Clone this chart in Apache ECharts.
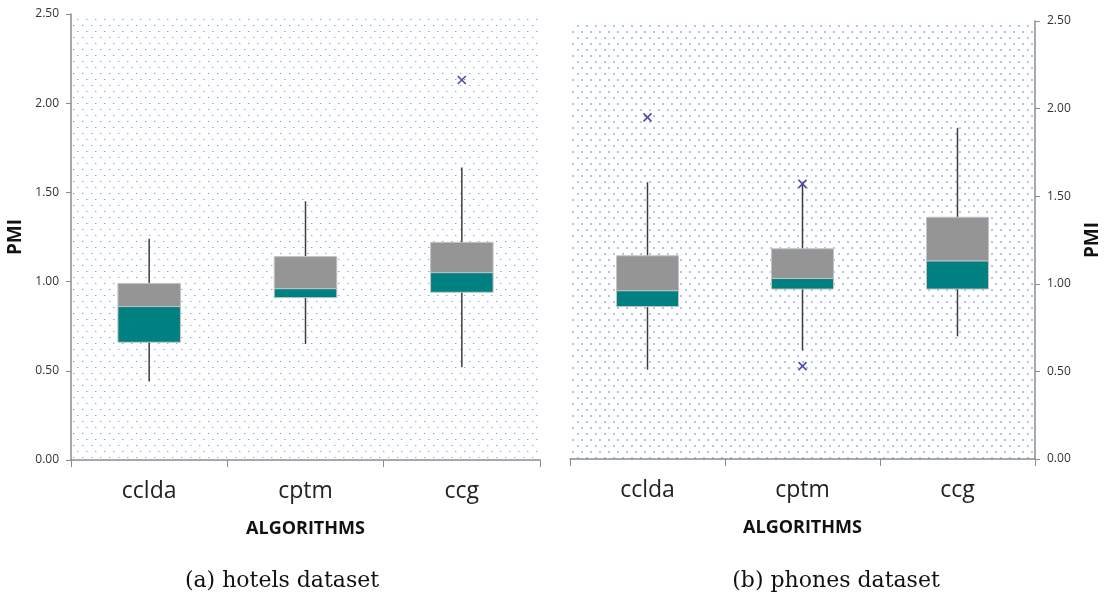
<!DOCTYPE html>
<html>
<head>
<meta charset="utf-8">
<script src="https://cdn.jsdelivr.net/npm/echarts@6/dist/echarts.min.js"></script>
<style>
  html, body { margin: 0; padding: 0; background: #fff; }
  #chart { width: 1107px; height: 596px; }
</style>
</head>
<body>
<div id="chart"></div>
<script>
// categories and box values: [min, q1, median, q3, max]
const categories = ['cclda', 'cptm', 'ccg'];
const yTicks = [0, 0.5, 1, 1.5, 2, 2.5];

const hotelsBox = [
  [0.44, 0.66, 0.86, 0.99, 1.24],
  [0.65, 0.91, 0.96, 1.14, 1.45],
  [0.52, 0.94, 1.05, 1.22, 1.64]
];
const hotelsOutliers = [[2, 2.13]];

const phonesBox = [
  [0.51, 0.87, 0.96, 1.16, 1.58],
  [0.62, 0.97, 1.03, 1.20, 1.57],
  [0.70, 0.97, 1.13, 1.38, 1.89]
];
const phonesOutliers = [[0, 1.95], [1, 1.57], [1, 0.53]];

// dotted plot background
function dotPattern(big) {
  const c = document.createElement('canvas');
  c.width = 9; c.height = 12;
  const g = c.getContext('2d');
  g.fillStyle = '#fff';
  g.fillRect(0, 0, 9, 12);
  if (big) {
    g.fillStyle = 'rgba(90,140,215,0.5)';
    g.fillRect(1, 1, 2, 2);
    g.fillRect(5, 7, 2, 2);
  } else {
    g.fillStyle = 'rgba(70,130,220,0.7)';
    g.fillRect(1, 1, 1, 1);
    g.fillRect(5, 7, 1, 1);
    g.fillStyle = 'rgba(70,130,220,0.3)';
    g.fillRect(2, 1, 1, 1);
    g.fillRect(6, 7, 1, 1);
  }
  return { image: c, repeat: 'repeat' };
}

function renderBox(params, api) {
  const i = api.value(0);
  const pMin = api.coord([i, api.value(1)]);
  const pQ1 = api.coord([i, api.value(2)]);
  const pMed = api.coord([i, api.value(3)]);
  const pQ3 = api.coord([i, api.value(4)]);
  const pMax = api.coord([i, api.value(5)]);
  const w = api.size([1, 0])[0] * 0.4;
  const x0 = pMed[0] - w / 2;
  return {
    type: 'group',
    children: [
      { type: 'line', shape: { x1: pMin[0], y1: pMin[1], x2: pMax[0], y2: pMax[1] },
        style: { stroke: '#3c3c3c', lineWidth: 1.5 } },
      { type: 'rect', shape: { x: x0, y: pQ3[1], width: w, height: pMed[1] - pQ3[1] },
        style: { fill: '#959595', stroke: '#c4c4c4', lineWidth: 1 } },
      { type: 'rect', shape: { x: x0, y: pMed[1], width: w, height: pQ1[1] - pMed[1] },
        style: { fill: '#008080', stroke: '#c4c4c4', lineWidth: 1 } }
    ]
  };
}

function renderCross(params, api) {
  const p = api.coord([api.value(0), api.value(1)]);
  const r = 4;
  const st = { stroke: '#4b4ba8', lineWidth: 1.6 };
  return {
    type: 'group',
    children: [
      { type: 'line', shape: { x1: p[0] - r, y1: p[1] - r, x2: p[0] + r, y2: p[1] + r }, style: st },
      { type: 'line', shape: { x1: p[0] - r, y1: p[1] + r, x2: p[0] + r, y2: p[1] - r }, style: st }
    ]
  };
}

function boxData(arr) {
  return arr.map((b, i) => [i].concat(b));
}

function xAxisOf(gridIndex) {
  return {
    type: 'category', gridIndex: gridIndex, data: categories,
    name: 'ALGORITHMS', nameLocation: 'middle', nameGap: 60,
    nameTextStyle: { fontFamily: 'Open Sans', fontWeight: 'bold', fontSize: 18, color: '#111' },
    axisLine: { lineStyle: { color: '#8c8c8c', width: 1.5 } },
    axisTick: { show: true, length: 7, interval: 0, lineStyle: { color: '#8c8c8c' } },
    axisLabel: { fontFamily: 'Open Sans', fontSize: 23, color: '#222', margin: 20 },
    splitLine: { show: false }
  };
}

function yAxisOf(gridIndex, pos) {
  return {
    type: 'value', gridIndex: gridIndex, position: pos,
    min: yTicks[0], max: yTicks[yTicks.length - 1], interval: 0.5,
    name: 'PMI', nameLocation: 'middle', nameGap: pos === 'left' ? 46 : 48, nameRotate: 90,
    nameTextStyle: { fontFamily: 'Open Sans', fontWeight: 'bold', fontSize: 19, color: '#111' },
    axisLine: { show: true, lineStyle: { color: '#8c8c8c', width: 1.5 } },
    axisTick: { show: true, length: 5, lineStyle: { color: '#8c8c8c' } },
    axisLabel: { fontFamily: 'Open Sans', fontSize: 12, color: '#333', margin: 12,
                 formatter: v => v.toFixed(2) },
    splitLine: { show: false }
  };
}

const chart = echarts.init(document.getElementById('chart'), null, { renderer: 'canvas' });
chart.setOption({
  backgroundColor: '#fff',
  animation: false,
  title: [
    { text: '(a) hotels dataset', left: 277, top: 565, textAlign: 'center',
      textStyle: { fontFamily: 'DejaVu Serif', fontWeight: 'normal', fontSize: 22, color: '#111' } },
    { text: '(b) phones dataset', left: 831, top: 565, textAlign: 'center',
      textStyle: { fontFamily: 'DejaVu Serif', fontWeight: 'normal', fontSize: 22, color: '#111' } }
  ],
  grid: [
    { left: 71, top: 14, width: 469, height: 446, show: true, borderWidth: 0,
      backgroundColor: dotPattern(false) },
    { left: 570, top: 21, width: 465, height: 438, show: true, borderWidth: 0,
      backgroundColor: dotPattern(true) }
  ],
  xAxis: [xAxisOf(0), xAxisOf(1)],
  yAxis: [yAxisOf(0, 'left'), yAxisOf(1, 'right')],
  series: [
    { type: 'custom', xAxisIndex: 0, yAxisIndex: 0, renderItem: renderBox,
      encode: { x: 0, y: [1, 2, 3, 4, 5] }, data: boxData(hotelsBox) },
    { type: 'custom', xAxisIndex: 0, yAxisIndex: 0, renderItem: renderCross,
      encode: { x: 0, y: 1 }, data: hotelsOutliers, z: 3 },
    { type: 'custom', xAxisIndex: 1, yAxisIndex: 1, renderItem: renderBox,
      encode: { x: 0, y: [1, 2, 3, 4, 5] }, data: boxData(phonesBox) },
    { type: 'custom', xAxisIndex: 1, yAxisIndex: 1, renderItem: renderCross,
      encode: { x: 0, y: 1 }, data: phonesOutliers, z: 3 }
  ]
});
</script>
</body>
</html>
